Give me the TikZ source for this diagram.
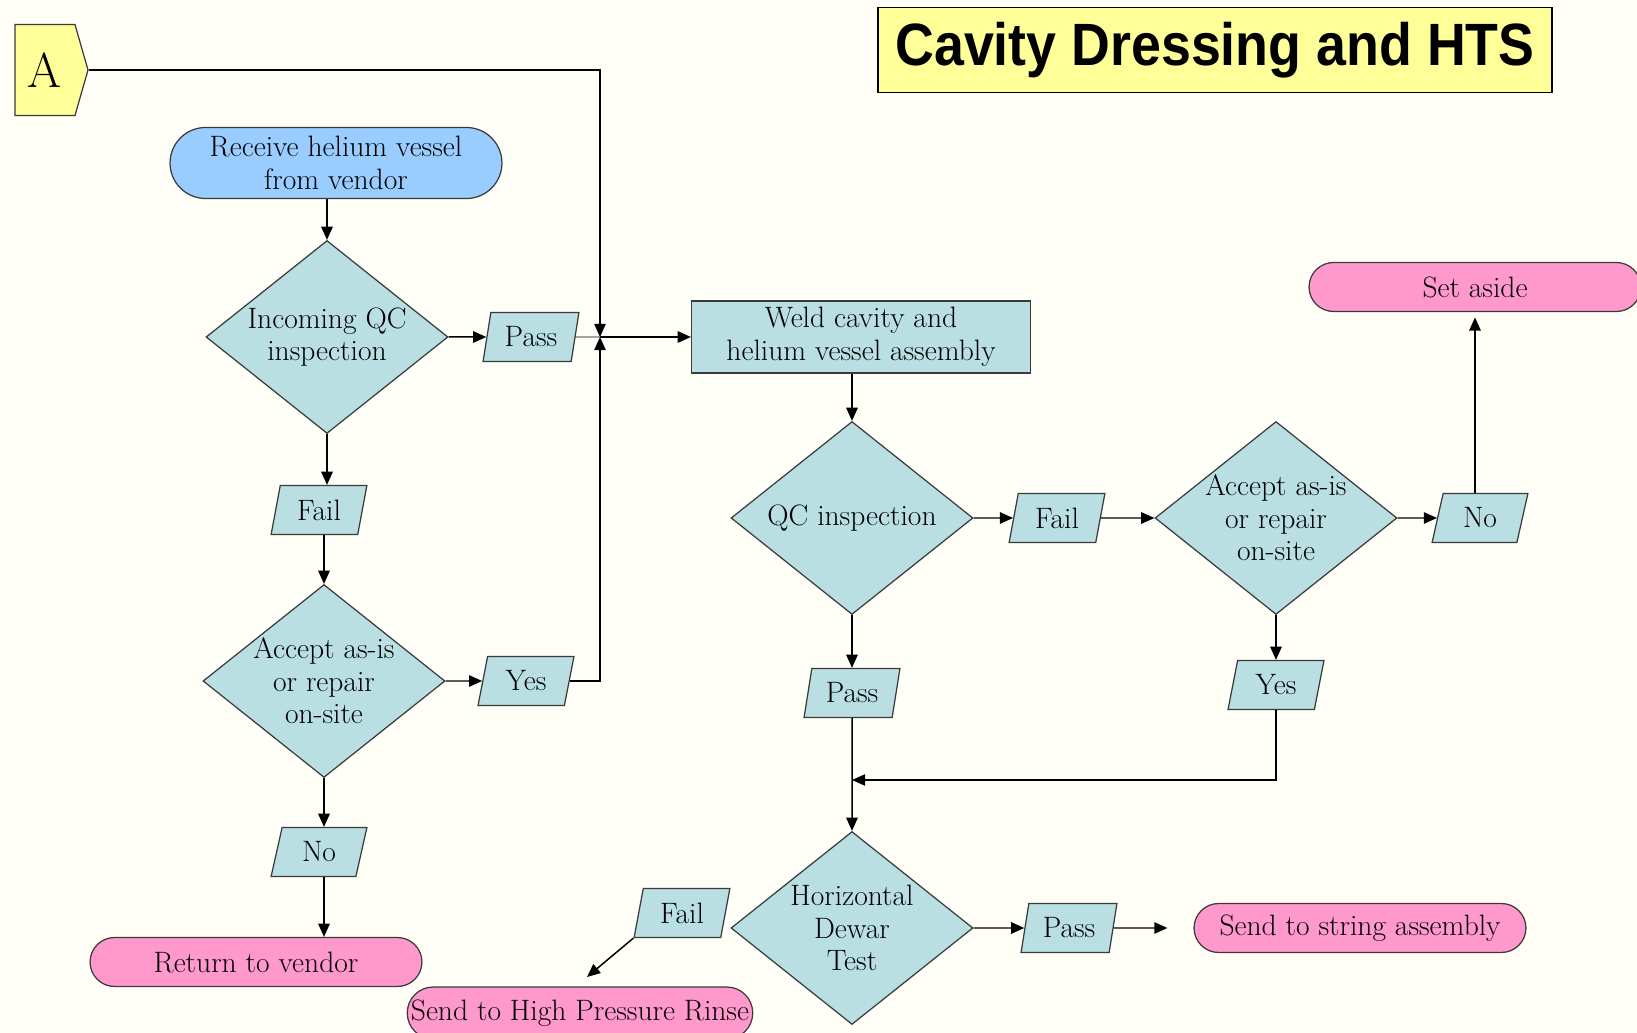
\documentclass[tikz,border=0pt]{standalone}
\usepackage{fontspec}
\newfontfamily\titlefont[FakeStretch=0.9]{Liberation Sans}
\usetikzlibrary{shapes.geometric, shapes.misc, shapes.symbols, arrows.meta}

\definecolor{cream}{HTML}{FFFFF7}
\definecolor{qcteal}{HTML}{B9DFE3}
\definecolor{endpink}{HTML}{FF99CC}
\definecolor{startblue}{HTML}{99CCFF}
\definecolor{notebar}{HTML}{FFFF99}
\definecolor{rim}{HTML}{3A3A3A}

\begin{document}
\begin{tikzpicture}[x=0.02cm, y=-0.02cm,
    font=\fontsize{16.8}{18.5}\selectfont,
    box/.style={draw=rim, line width=0.7pt, fill=qcteal, align=center, inner sep=2pt},
    decision/.style={box, diamond, aspect=1.25, minimum width=4.84cm, minimum height=3.86cm, inner sep=-3pt},
    answer/.style={box, trapezium, trapezium left angle=76, trapezium right angle=104,
        trapezium stretches=true, minimum width=1.92cm, minimum height=0.98cm, inner sep=0pt},
    terminal/.style={box, rounded rectangle, minimum width=6.78cm, minimum height=0.98cm, fill=endpink},
    flow/.style={-{Triangle[length=7.5pt, width=6.5pt]}, line width=0.85pt}]

    % Page
    \fill[cream] (0,0) rectangle (1637,1033);
    \useasboundingbox (0,0) rectangle (1637,1033);

    % Title and off-page connector
    \node[box, rectangle, fill=notebar, draw=black, line width=0.9pt, minimum width=13.48cm, minimum height=1.70cm,
        font=\titlefont\bfseries\fontsize{34}{36}\selectfont] (title) at (1215,50) {Cavity Dressing and HTS};
    \node[box, signal, signal to=east, signal pointer angle=148, fill=notebar, minimum width=1.46cm, minimum height=1.82cm,
        font=\fontsize{28}{30}\selectfont] (A) at (45,70) {A};

    % Incoming inspection
    \node[box, rounded rectangle, fill=startblue, minimum width=6.78cm, minimum height=1.42cm] (receive) at (336,163) {Receive helium vessel\\from vendor};
    \node[decision] (incoming) at (327,337) {Incoming QC\\inspection};
    \node[answer] (pass1) at (531,337) {Pass};
    \coordinate (join) at (600,337);
    \node[answer] (fail1) at (319,510) {Fail};
    \node[decision] (accept1) at (324,681) {Accept as-is\\or repair\\on-site};
    \node[answer] (yes1) at (526,681) {Yes};
    \node[answer] (no1) at (319,852) {No};
    \node[terminal] (return) at (256,962) {Return to vendor};

    % Welding and inspection
    \node[box, minimum width=6.78cm, minimum height=1.44cm] (weld) at (861,337) {Weld cavity and\\helium vessel assembly};
    \node[decision] (qc) at (852,518) {QC inspection};
    \node[answer] (fail2) at (1057,518) {Fail};
    \node[decision] (accept2) at (1276,518) {Accept as-is\\or repair\\on-site};
    \node[answer] (no2) at (1480,518) {No};
    \node[terminal] (aside) at (1475,287) {Set aside};
    \node[answer] (pass2) at (852,693) {Pass};
    \node[answer] (yes2) at (1276,685) {Yes};
    \coordinate (merge) at (852,780);

    % Horizontal test
    \node[decision] (dewar) at (852,928) {Horizontal\\Dewar\\Test};
    \node[answer] (pass3) at (1069,928) {Pass};
    \node[terminal] (string) at (1360,928) {Send to string assembly};
    \node[answer] (fail3) at (682,913) {Fail};
    \node[terminal, minimum width=6.82cm, minimum height=1.04cm, inner sep=0pt] (rinse) at (580,1013) {Send to High Pressure Rinse};
    \coordinate (rinsetip) at (587,977);

    % Left column
    \draw[flow] (receive.south -| incoming.north) -- (incoming.north);
    \draw[flow] (incoming.east) -- (pass1.west);
    \draw (pass1.east) -- (join);
    \draw[flow] (A.east) -| (join);
    \draw[flow] (yes1.east) -| (join);
    \draw[flow] (join) -- (weld.west);
    \draw[flow] (incoming.south) -- (incoming.south |- fail1.north);
    \draw[flow] (fail1.south -| accept1.north) -- (accept1.north);
    \draw[flow] (accept1.east) -- (yes1.west);
    \draw[flow] (accept1.south) -- (accept1.south |- no1.north);
    \draw[flow] (no1.south -| accept1.south) -- (accept1.south |- return.north);

    % Right part
    \draw[flow] (weld.south -| qc.north) -- (qc.north);
    \draw[flow] (qc.east) -- (fail2.west);
    \draw[flow] (fail2.east) -- (accept2.west);
    \draw[flow] (accept2.east) -- (no2.west);
    \draw[flow, shorten >=3pt] (no2.north -| aside.south) -- (aside.south);
    \draw[flow] (qc.south) -- (qc.south |- pass2.north);
    \draw[flow] (accept2.south) -- (accept2.south |- yes2.north);
    \draw[flow] (pass2.south) -- (dewar.north);
    \draw[flow] (yes2.south) |- (merge);

    % Test outcomes
    \draw[flow] (dewar.east) -- (pass3.west);
    \draw[flow] (pass3.east) -- ([xshift=-0.52cm]string.west);
    \draw[flow] (fail3.bottom left corner) -- (rinsetip);
\end{tikzpicture}
\end{document}
